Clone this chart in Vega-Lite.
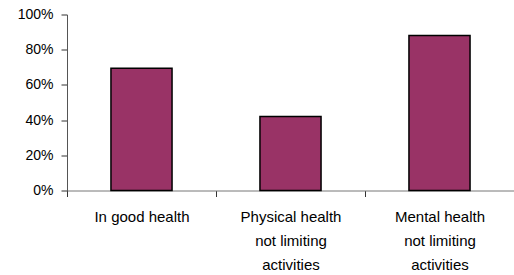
{
  "$schema": "https://vega.github.io/schema/vega-lite/v6.json",
  "autosize": "none",
  "width": 447,
  "height": 176,
  "padding": {"left": 67, "top": 14.5, "right": 0, "bottom": 84.5},
  "background": "white",
  "config": {
    "view": {"stroke": null},
    "font": "Liberation Sans"
  },
  "data": {
    "values": [
      {"category": "In good health", "share": 0.695},
      {"category": "Physical health|not limiting|activities", "share": 0.42},
      {"category": "Mental health|not limiting|activities", "share": 0.88}
    ]
  },
  "mark": {"type": "bar", "width": {"band": 0.41}, "color": "#993366", "stroke": "#000000", "strokeWidth": 1.5},
  "encoding": {
    "x": {
      "field": "category",
      "type": "nominal",
      "sort": null,
      "scale": {"paddingInner": 0, "paddingOuter": 0},
      "axis": {
        "title": null,
        "labelAngle": 0,
        "tickBand": "extent",
        "labelExpr": "split(datum.label, '|')",
        "labelFontSize": 15,
        "labelColor": "#000000",
        "labelLineHeight": 24,
        "labelPadding": 20,
        "labelBaseline": "middle",
        "tickSize": 6,
        "tickColor": "#333333",
        "domainColor": "#777777",
        "grid": false
      }
    },
    "y": {
      "field": "share",
      "type": "quantitative",
      "scale": {"domain": [0, 1], "nice": false},
      "axis": {
        "title": null,
        "values": [0, 0.2, 0.4, 0.6, 0.8, 1],
        "format": ".0%",
        "labelFontSize": 14,
        "labelColor": "#000000",
        "labelPadding": 8,
        "tickSize": 6,
        "tickColor": "#333333",
        "domainColor": "#555555",
        "grid": false
      }
    }
  }
}
